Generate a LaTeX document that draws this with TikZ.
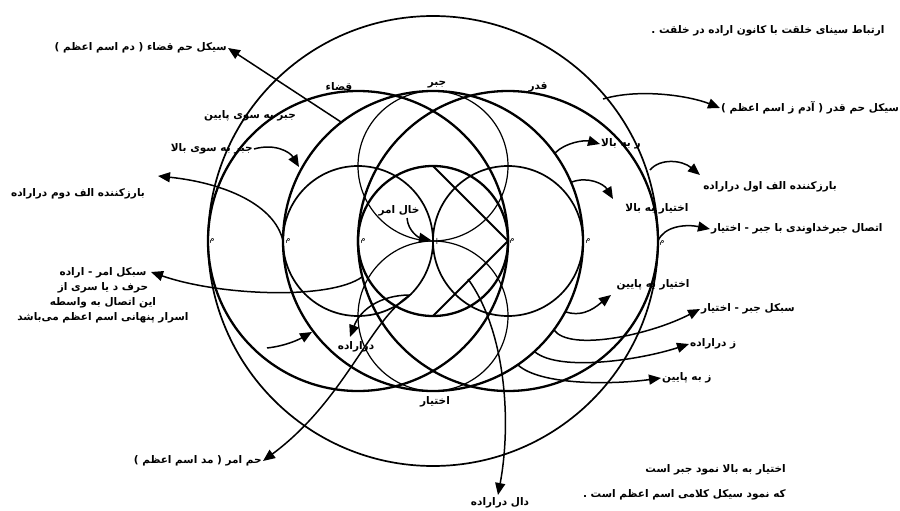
\documentclass[tikz,border=0pt]{standalone}
\usepackage{fontspec}
\usetikzlibrary{arrows.meta}
\TeXXeTstate=1
\newfontfamily\fa[Script=Arabic]{DejaVu Sans}
\newcommand{\fr}[1]{\beginR #1\endR}
\begin{document}
\begin{tikzpicture}[x=1pt,y=-1pt,
  lbl/.style={font=\fa\bfseries\fontsize{10.5}{15}\selectfont, inner sep=1pt},
  mlbl/.style={font=\fa\fontsize{8}{9}\selectfont, inner sep=0pt},
  bold/.style={line width=2.3pt},
  med/.style={line width=1.7pt},
  thin/.style={line width=1.2pt},
  arr/.style={line width=1.5pt, -{Triangle[length=12pt,width=10pt]}},
  ln/.style={line width=1.8pt}]
\useasboundingbox (0,0) rectangle (900,511);
% circles
\draw[med]  (433,241) circle[radius=225];
\draw[bold] (358,241) circle[radius=150];
\draw[bold] (433,241) circle[radius=150];
\draw[bold] (508,241) circle[radius=150];
\draw[bold] (433,241) circle[radius=75];
\draw[med]  (358,241) circle[radius=75];
\draw[med]  (508,241) circle[radius=75];
\draw[thin] (433,166) circle[radius=75];
\draw[thin] (433,316) circle[radius=75];
% diamond half
\coordinate (dT) at (433,166);
\coordinate (dR) at (508,241);
\coordinate (dB) at (433,316);
\draw[ln] (dT) -- (dR) -- (dB);
% labels
\node[lbl] (title) at (768,31) {\fr{ارتباط سینای خلقت با کانون اراده در خلقت .}};
\node[lbl, anchor=east] (qazaLbl) at (228,48) {\fr{سیکل حم قضاء ( دم اسم اعظم )}};
\node[lbl] (qazaTop) at (339,87) {\fr{قضاء}};
\node[lbl] (jabrTop) at (437,85) {\fr{جبر}};
\node[lbl] (qadarTop) at (538,87) {\fr{قدر}};
\node[lbl] (jabrDown) at (250,116) {\fr{جبر به سوی پایین}};
\node[lbl, anchor=west] (qadarLbl) at (720,108) {\fr{سیکل حم قدر ( آدم ز اسم اعظم )}};
\node[lbl, anchor=east] (jabrUp) at (254,149) {\fr{جبر به سوی بالا}};
\node[lbl] (alef2) at (78,194) {\fr{بارزکننده الف دوم دراراده}};
\node[lbl, anchor=west] (rbala) at (600,144) {\fr{ر به بالا}};
\node[lbl] (alef1) at (770,187) {\fr{بارزکننده الف اول دراراده}};
\node[lbl] (ekhtUp) at (657,209) {\fr{اختیار به بالا}};
\node[lbl, anchor=west] (ettesal) at (710,229) {\fr{اتصال جبرخداوندی با جبر - اختیار}};
\node[lbl] (khal) at (399,211) {\fr{خال امر}};
\node[lbl, align=center] (amr) at (103,295) {\fr{سبکل امر - اراده}\\\fr{حرف د یا سری از}\\\fr{این اتصال به واسطه}\\\fr{اسرار پنهانی اسم اعظم می‌باشد}};
\node[lbl] (ekhtDown) at (653,285) {\fr{اختیار به پایین}};
\node[lbl, anchor=west] (sabkal) at (700,309) {\fr{سبکل جبر - اختیار}};
\node[lbl, anchor=west] (zdar) at (689,344) {\fr{ز دراراده}};
\node[lbl, anchor=west] (zpayin) at (661,378) {\fr{ز به پایین}};
\node[lbl] (darLbl) at (356,347) {\fr{دراراده}};
\node[lbl] (ekhtBot) at (435,402) {\fr{اختیار}};
\node[lbl, anchor=east] (hamAmr) at (263,461) {\fr{حم امر ( مد اسم اعظم )}};
\node[lbl] (dal) at (500,503) {\fr{دال دراراده}};
\node[lbl, anchor=east] (note1) at (787,470) {\fr{اختیار به بالا نمود جبر است}};
\node[lbl, anchor=east] (note2) at (787,495) {\fr{که نمود سیکل کلامی اسم اعظم است .}};
% m labels
\node[mlbl] (m1) at (212,241) {م};
\node[mlbl] (m2) at (288,241) {م};
\node[mlbl] (m3) at (363,241) {م};
\node[mlbl] (m4) at (437,241) {ا};
\node[mlbl] (m5) at (512,241) {م};
\node[mlbl] (m6) at (588,241) {م};
\node[mlbl] (m7) at (662,243) {م};
% connector coordinates
\coordinate (sQaza) at (341,122);
\coordinate (tJabrUp) at (299,167);
\coordinate (pM2) at (283,241);
\coordinate (tAlef2) at (158,176);
\coordinate (sQadar) at (603,99);
\coordinate (sRbala) at (555,153);
\coordinate (sAlef1) at (650,170);
\coordinate (tAlef1) at (700,175);
\coordinate (sEkhtUp) at (572,182);
\coordinate (tEkhtUp) at (613,199);
\coordinate (pM7) at (658,241);
\coordinate (sKhal) at (407,218);
\coordinate (pC) at (431,240);
\coordinate (sAmr) at (362,277);
\coordinate (tAmr) at (151,272);
\coordinate (sEkhtDown) at (566,312);
\coordinate (tEkhtDown) at (611,295);
\coordinate (sSabkal) at (554,330);
\coordinate (sZdar) at (535,352);
\coordinate (sZpayin) at (518,365);
\coordinate (sDar) at (410,295);
\coordinate (tDar) at (350,337);
\coordinate (sX) at (267,348);
\coordinate (tX) at (312,332);
\coordinate (sDal) at (468,279);
\coordinate (tDal) at (498,495);
% connectors
\draw[arr] (sQaza) -- (qazaLbl.east);
\draw[arr] (jabrUp.east) .. controls (275,143) and (290,152) .. (tJabrUp);
\draw[arr] (pM2) .. controls (275,205) and (225,183) .. (tAlef2);
\draw[arr] (sQadar) .. controls (640,88) and (690,96) .. (qadarLbl.west);
\draw[arr] (sRbala) .. controls (566,142) and (585,140) .. (rbala.west);
\draw[arr] (sAlef1) .. controls (660,158) and (682,160) .. (tAlef1);
\draw[arr] (sEkhtUp) .. controls (588,176) and (604,184) .. (tEkhtUp);
\draw[arr] (pM7) .. controls (664,226) and (686,224) .. (ettesal.west);
\draw[arr] (sKhal) .. controls (408,232) and (420,238) .. (pC);
\draw[arr] (sAmr) .. controls (330,300) and (220,296) .. (tAmr);
\draw[arr] (sEkhtDown) .. controls (585,318) and (598,305) .. (tEkhtDown);
\draw[arr] (sSabkal) .. controls (570,352) and (650,335) .. (sabkal.west);
\draw[arr] (sZdar) .. controls (560,372) and (640,360) .. (zdar.west);
\draw[arr] (sZpayin) .. controls (540,385) and (610,385) .. (zpayin.west);
\draw[arr] (sDar) .. controls (380,295) and (360,310) .. (tDar);
\draw[arr] (sX) .. controls (285,346) and (298,340) .. (tX);
\draw[arr] (sDar) .. controls (370,320) and (345,400) .. (hamAmr.east);
\draw[arr] (sDal) .. controls (505,330) and (512,420) .. (tDal);
\end{tikzpicture}
\end{document}
